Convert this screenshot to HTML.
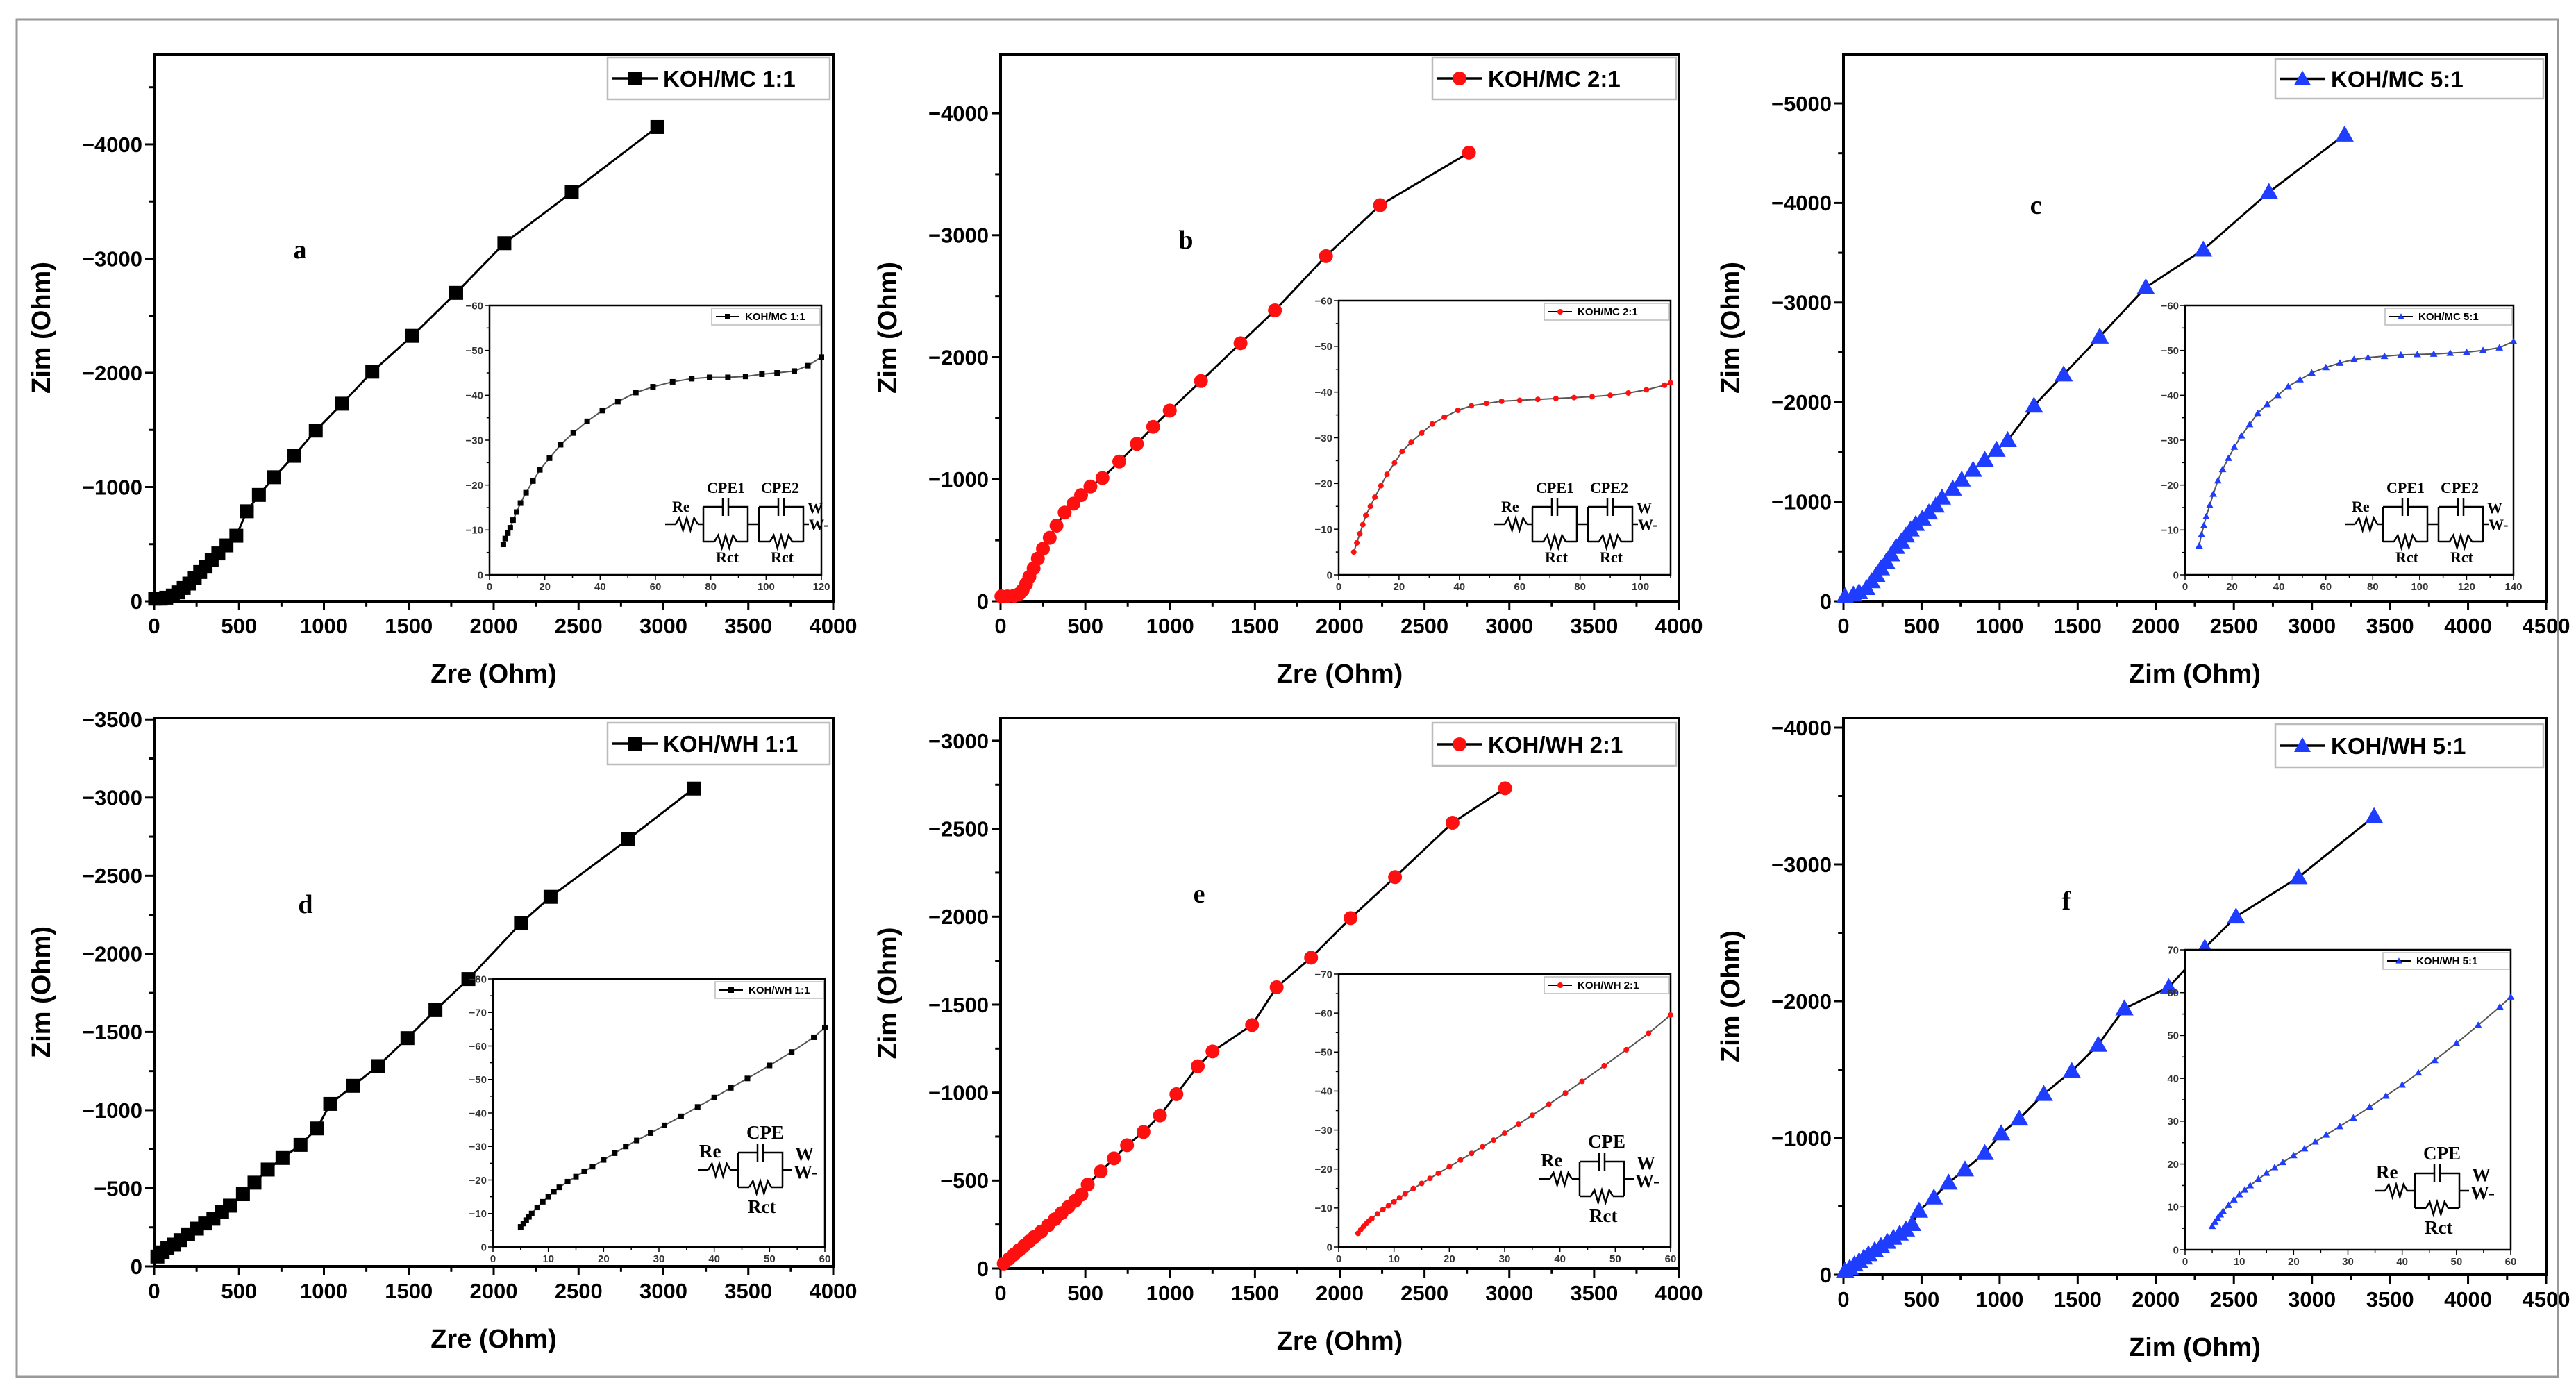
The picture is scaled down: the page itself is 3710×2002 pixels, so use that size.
<!DOCTYPE html>
<html><head><meta charset="utf-8">
<style>
html,body{margin:0;padding:0;background:#fff;}
svg{display:block;}
text{font-family:"Liberation Sans",Arial,sans-serif;}
text.serif{font-family:"Liberation Serif",serif;}
</style></head>
<body>
<svg id="fig" width="3710" height="2002" viewBox="0 0 3710 2002" xmlns="http://www.w3.org/2000/svg">
<rect x="24" y="28" width="3660" height="1955" fill="#fff" stroke="#999" stroke-width="3"/>
</svg>
<script>
// ===== Data arrays =====
const aZre=[6,39,71,110,142,174,207,239,271,303,339,378,426,484,546,617,707,823,952,1107,1285,1521,1779,2063,2460,2964];
const aZim=[23,23,31,50,78,116,155,206,256,303,361,419,489,574,788,931,1086,1273,1494,1730,2010,2324,2700,3135,3581,4152];
const bZre=[5,40,80,110,130,150,170,195,220,250,290,330,378,430,475,530,601,700,804,900,998,1182,1415,1618,1919,2238,2762];
const bZim=[40,40,45,60,90,140,200,270,350,430,520,620,727,800,870,940,1010,1145,1290,1430,1563,1805,2115,2384,2829,3246,3677];
const cZre=[10,63,100,147,180,210,240,273,305,337,370,400,430,463,505,547,590,631,700,757,830,905,980,1052,1220,1410,1641,1936,2304,2725,3209];
const cZim=[50,66,90,132,200,264,330,396,470,545,600,660,720,776,830,891,960,1040,1130,1221,1320,1419,1520,1617,1964,2277,2657,3152,3531,4109,4686];
const dZre=[19,50,78,115,155,200,252,300,349,400,446,523,591,669,756,862,959,1037,1172,1318,1492,1657,1851,2161,2335,2791,3178];
const dZim=[63,90,116,140,168,205,242,275,305,350,389,462,536,620,694,778,883,1040,1156,1282,1461,1640,1839,2197,2365,2733,3058];
const eZre=[19,50,80,110,140,170,200,240,280,320,360,400,440,477,514,591,669,746,843,940,1037,1163,1250,1483,1628,1831,2064,2326,2665,2975];
const eZim=[28,55,80,105,130,155,180,210,245,280,315,350,385,420,477,552,626,701,776,870,991,1150,1234,1384,1599,1767,1992,2225,2534,2730];
const fZre=[10,40,70,100,130,160,200,240,280,320,360,400,440,484,579,673,778,905,1010,1126,1283,1462,1631,1799,2083,2314,2514,2914,3398];
const fZim=[30,50,75,100,125,150,180,210,240,270,300,330,370,468,564,673,769,889,1033,1141,1321,1489,1681,1946,2102,2390,2618,2906,3351];
// insets
const iaX=[5,5.7,6.6,7.5,8.5,9.8,11.2,13.2,15.7,18.2,21.7,25.7,30.3,35.3,40.8,46.4,52.9,59.1,66.2,73.1,79.6,86.2,92.6,98.5,104,110.2,115.1,120];
const iaY=[6.8,8.1,9.3,10.5,12.2,14,16,18.3,20.9,23.4,26,29,31.6,34.2,36.6,38.6,40.6,41.9,43,43.7,44,44,44.2,44.7,45,45.4,46.6,48.5];
const ibX=[5,6,7,8,9,10.5,12,14,16,18.5,21,24,27.5,31,35,39.5,44,49,54,60,66,72,78,84,90,96,102,108,110];
const ibY=[5,7,9,11,13,15,17,19.5,22,24.5,27,29,31,33,34.5,36,37,37.5,38,38.2,38.4,38.6,38.8,39,39.3,39.8,40.5,41.5,42];
const icX=[6,7,8,9,10.5,12,14,16,18.5,21,24,27.5,31,35,39.5,44,49,54,60,66,72,78,85,92,99,106,113,120,127,134,140];
const icY=[6.5,9,11,13,15.5,18,21,23.5,26,28.5,31,33.5,36,38,40,42,43.5,45,46.2,47.2,48,48.4,48.7,49,49.1,49.2,49.4,49.6,50,50.6,52];
const idX=[5,5.5,6,6.5,7,8,9,10,11,12,13.5,15,16.5,18,20,22,24,26,28.5,31,34,37,40,43,46,50,54,58,60];
const idY=[6,7,8,9,10,11.8,13.5,15,16.5,17.8,19.5,21,22.6,24,26,28,30,31.8,34,36.3,39,41.8,44.6,47.5,50.3,54.2,58.2,62.6,65.5];
const ieX=[3.5,4,4.5,5,5.5,6,7,8,9,10,11,12,13.5,15,16.5,18,20,22,24,26,28,30,32.5,35,38,41,44,48,52,56,60];
const ieY=[3.5,4.5,5.3,6,6.7,7.3,8.5,9.6,10.6,11.6,12.6,13.6,15,16.3,17.6,18.9,20.6,22.3,24,25.7,27.4,29.2,31.5,33.8,36.6,39.5,42.5,46.5,50.6,54.8,59.5];
const ifX=[5,5.5,6,6.5,7,8,9,10,11,12,13.5,15,16.5,18,20,22,24,26,28.5,31,34,37,40,43,46,50,54,58,60];
const ifY=[5.5,6.5,7.4,8.2,9,10.4,11.7,12.9,14,15,16.5,17.9,19.2,20.4,22,23.6,25.2,26.8,28.8,30.8,33.3,35.9,38.5,41.3,44.2,48.2,52.4,56.7,59];

const NS="http://www.w3.org/2000/svg";
const svg=document.getElementById('fig');
function mk(tag,attrs,parent){const e=document.createElementNS(NS,tag);for(const k in attrs)e.setAttribute(k,attrs[k]);(parent||svg).appendChild(e);return e;}
function txt(s,x,y,size,attrs,parent){const e=mk('text',Object.assign({x:x,y:y,'font-size':size},attrs||{}),parent);e.textContent=s;return e;}

function marker(g,shape,x,y,s,color){
  let m;
  if(shape==='sq'){m=mk('rect',{x:x-s/2,y:y-s/2,width:s,height:s,fill:color},g);}
  else if(shape==='ci'){m=mk('circle',{cx:x,cy:y,r:s/2,fill:color},g);}
  else {m=mk('polygon',{points:`${x},${y-s*0.6} ${x-s*0.6},${y+s*0.45} ${x+s*0.6},${y+s*0.45}`,fill:color},g);}
  return m;
}

function panel(o){
  const g=mk('g',{});
  
  
  const X=v=>o.x0+(v-0)/(o.xmax)*(o.x1-o.x0);
  const Y=v=>o.y1-(v)/(o.ymax)*(o.y1-o.y0);
  const fr=mk('rect',{x:o.x0,y:o.y0,width:o.x1-o.x0,height:o.y1-o.y0,fill:'none',stroke:'#000','stroke-width':o.inset?2.5:4},g);
  
  
  const fs=o.inset?15:31, tl=o.inset?7:13;
  for(let v=0;v<=o.xmax+1e-9;v+=o.xstep/2){
    const major=Math.abs(v/o.xstep-Math.round(v/o.xstep))<1e-6;
    mk('line',{x1:X(v),x2:X(v),y1:o.y1,y2:o.y1+(major?tl:tl*0.6),stroke:'#000','stroke-width':o.inset?1.5:3},g);
    if(major){const t=txt(String(Math.round(v)),X(v),o.y1+(o.inset?22:46),fs,{'text-anchor':'middle','font-weight':'bold',fill:o.inset?'#333':'#000'},g);
      }
  }
  for(let v=0;v<=o.ymax+1e-9;v+=o.ystep/2){
    const major=Math.abs(v/o.ystep-Math.round(v/o.ystep))<1e-6;
    mk('line',{x1:o.x0,x2:o.x0-(major?tl:tl*0.6),y1:Y(v),y2:Y(v),stroke:'#000','stroke-width':o.inset?1.5:3},g);
    if(major){const s=v===0?'0':(o.pos?'':'\u2212')+Math.round(v);
      const t=txt(s,o.x0-(o.inset?9:17),Y(v)+fs*0.35,fs,{'text-anchor':'end','font-weight':'bold',fill:o.inset?'#333':'#000'},g);
      }
  }
  const pts=o.xs.map((v,i)=>X(v)+','+Y(o.ys[i])).join(' ');
  const pl=mk('polyline',{points:pts,fill:'none',stroke:o.inset?'#555':'#000','stroke-width':o.inset?2:3},g);
  
  
  o.xs.forEach((v,i)=>{const m=marker(g,o.shape,X(v),Y(o.ys[i]),o.ms,o.color);
    
    });
  const L=o.leg;
  const lr=mk('rect',{x:L[0],y:L[1],width:L[2],height:L[3],fill:'#fff',stroke:'#bbb','stroke-width':o.inset?1.5:2.5},g);
  
  
  const ly=L[1]+L[3]/2, lw=o.inset?34:66;
  mk('line',{x1:L[0]+6,x2:L[0]+6+lw,y1:ly,y2:ly,stroke:'#000','stroke-width':o.inset?2:3.5},g);
  marker(g,o.shape,L[0]+6+lw/2,ly,o.inset?8:20,o.color);
  const lt=txt(o.label,L[0]+14+lw,ly+(o.inset?5:12),o.inset?15:33,{'font-weight':'bold'},g);
  
  return {g,X,Y};
}

function circuit(cx,cy,two){
  const g=mk('g',{transform:`translate(${cx},${cy})`,fill:'none',stroke:'#000','stroke-width':2.5});
  
  
  const TA={fill:'#000',stroke:'none','font-weight':'bold','class':'serif'};
  function zig(x,y,w){let d=`M${x},${y}`;const n=6;for(let i=1;i<=n;i++){d+=` L${x+w*i/n},${y+(i===n?0:(i%2?-9:9))}`;}mk('path',{d:d},g);}
  if(two){
    mk('line',{x1:-110,y1:0,x2:-95,y2:0},g);zig(-95,0,32);mk('line',{x1:-63,y1:0,x2:-55,y2:0},g);
    [[-55],[25]].forEach(([bx])=>{
      mk('path',{d:`M${bx},-25 L${bx},25 M${bx},-25 L${bx+28},-25 M${bx+36},-25 L${bx+64},-25 L${bx+64},25 M${bx},25 L${bx+16},25 M${bx+48},25 L${bx+64},25`},g);
      mk('line',{x1:bx+28,y1:-38,x2:bx+28,y2:-12},g);mk('line',{x1:bx+36,y1:-38,x2:bx+36,y2:-12},g);
      zig(bx+16,25,32);
    });
    mk('line',{x1:9,y1:0,x2:25,y2:0},g);mk('line',{x1:89,y1:0,x2:97,y2:0},g);
    txt('Re',-100,-18,22,TA,g);
    txt('CPE1',-50,-45,22,TA,g);
    txt('CPE2',28,-45,22,TA,g);
    txt('W',95,-16,22,TA,g);
    txt('W-',97,8,22,TA,g);
    txt('Rct',-37,55,22,TA,g);
    txt('Rct',42,55,22,TA,g);
  } else {
    mk('line',{x1:-90,y1:0,x2:-75,y2:0},g);zig(-75,0,32);mk('line',{x1:-43,y1:0,x2:-32,y2:0},g);
    const bx=-32;
    mk('path',{d:`M${bx},-25 L${bx},25 M${bx},-25 L${bx+28},-25 M${bx+36},-25 L${bx+64},-25 L${bx+64},25 M${bx},25 L${bx+16},25 M${bx+48},25 L${bx+64},25 M${bx+64},0 L${bx+78},0`},g);
    mk('line',{x1:bx+28,y1:-38,x2:bx+28,y2:-12},g);mk('line',{x1:bx+36,y1:-38,x2:bx+36,y2:-12},g);
    zig(bx+16,25,32);
    txt('Re',-88,-18,27,TA,g);
    txt('CPE',-20,-45,27,TA,g);
    txt('W',50,-14,27,TA,g);
    txt('W-',48,12,27,TA,g);
    txt('Rct',-18,62,27,TA,g);
  }
}

const BLUE='#1f3dff', RED='#ff1010';
const mains=[
 {name:'panel-a',x0:222,x1:1200,y0:78,y1:866,xmax:4000,ymax:4790,xstep:500,ystep:1000,xs:aZre,ys:aZim,shape:'sq',color:'#000',ms:20,label:'KOH/MC 1:1',leg:[875,83,320,60],xt:'Zre (Ohm)',letter:'a',lp:[432,372]},
 {name:'panel-b',x0:1441,x1:2418,y0:78,y1:866,xmax:4000,ymax:4484,xstep:500,ystep:1000,xs:bZre,ys:bZim,shape:'ci',color:RED,ms:20,label:'KOH/MC 2:1',leg:[2063,83,351,60],xt:'Zre (Ohm)',letter:'b',lp:[1708,358]},
 {name:'panel-c',x0:2655,x1:3667,y0:78,y1:866,xmax:4500,ymax:5495,xstep:500,ystep:1000,xs:cZre,ys:cZim,shape:'tr',color:BLUE,ms:22,label:'KOH/MC 5:1',leg:[3277,85,386,57],xt:'Zim (Ohm)',letter:'c',lp:[2932,308]},
 {name:'panel-d',x0:222,x1:1200,y0:1034,y1:1824,xmax:4000,ymax:3510,xstep:500,ystep:500,xs:dZre,ys:dZim,shape:'sq',color:'#000',ms:20,label:'KOH/WH 1:1',leg:[875,1041,320,60],xt:'Zre (Ohm)',letter:'d',lp:[440,1315]},
 {name:'panel-e',x0:1441,x1:2418,y0:1034,y1:1827,xmax:4000,ymax:3130,xstep:500,ystep:500,xs:eZre,ys:eZim,shape:'ci',color:RED,ms:20,label:'KOH/WH 2:1',leg:[2063,1041,351,62],xt:'Zre (Ohm)',letter:'e',lp:[1727,1300]},
 {name:'panel-f',x0:2655,x1:3667,y0:1034,y1:1836,xmax:4500,ymax:4071,xstep:500,ystep:1000,xs:fZre,ys:fZim,shape:'tr',color:BLUE,ms:22,label:'KOH/WH 5:1',leg:[3277,1043,386,62],xt:'Zim (Ohm)',letter:'f',lp:[2976,1310]},
];
mains.forEach(o=>{
  const p=panel(o);
  const xt=txt(o.xt,(o.x0+o.x1)/2,o.y1+117,38,{'text-anchor':'middle','font-weight':'bold'},p.g);
  
  const cy=(o.y0+o.y1)/2, cx=o.x0-150;
  const yt=txt('Zim (Ohm)',cx,cy,38,{'text-anchor':'middle','font-weight':'bold',transform:`rotate(-90 ${cx} ${cy})`},p.g);
  
  const lt=txt(o.letter,o.lp[0],o.lp[1],38,{'text-anchor':'middle','font-weight':'bold','class':'serif'},p.g);
  
});
const insets=[
 {name:'inset-a',inset:true,x0:705,x1:1183,y0:440,y1:828,xmax:120,ymax:60,xstep:20,ystep:10,xs:iaX,ys:iaY,shape:'sq',color:'#000',ms:8,label:'KOH/MC 1:1',leg:[1025,444,156,24],circ:[1068,755,true]},
 {name:'inset-b',inset:true,x0:1928,x1:2406,y0:433,y1:828,xmax:110,ymax:60,xstep:20,ystep:10,xs:ibX,ys:ibY,shape:'ci',color:RED,ms:8,label:'KOH/MC 2:1',leg:[2224,437,180,24],circ:[2262,755,true]},
 {name:'inset-c',inset:true,x0:3147,x1:3620,y0:440,y1:828,xmax:140,ymax:60,xstep:20,ystep:10,xs:icX,ys:icY,shape:'tr',color:BLUE,ms:9,label:'KOH/MC 5:1',leg:[3435,444,183,24],circ:[3487,755,true]},
 {name:'inset-d',inset:true,x0:710,x1:1188,y0:1410,y1:1796,xmax:60,ymax:80,xstep:10,ystep:10,xs:idX,ys:idY,shape:'sq',color:'#000',ms:8,label:'KOH/WH 1:1',leg:[1030,1414,156,24],circ:[1095,1685,false]},
 {name:'inset-e',inset:true,x0:1928,x1:2406,y0:1403,y1:1796,xmax:60,ymax:70,xstep:10,ystep:10,xs:ieX,ys:ieY,shape:'ci',color:RED,ms:8,label:'KOH/WH 2:1',leg:[2224,1407,180,24],circ:[2307,1698,false]},
 {name:'inset-f',inset:true,pos:true,x0:3147,x1:3616,y0:1368,y1:1800,xmax:60,ymax:70,xstep:10,ystep:10,xs:ifX,ys:ifY,shape:'tr',color:BLUE,ms:9,label:'KOH/WH 5:1',leg:[3432,1372,182,24],circ:[3510,1715,false]},
];
insets.forEach(o=>{
  mk('rect',{x:o.x0,y:o.y0,width:o.x1-o.x0,height:o.y1-o.y0,fill:'#fff'});
  panel(o);
  circuit(o.circ[0],o.circ[1],o.circ[2]);
});
</script>
</body></html>
